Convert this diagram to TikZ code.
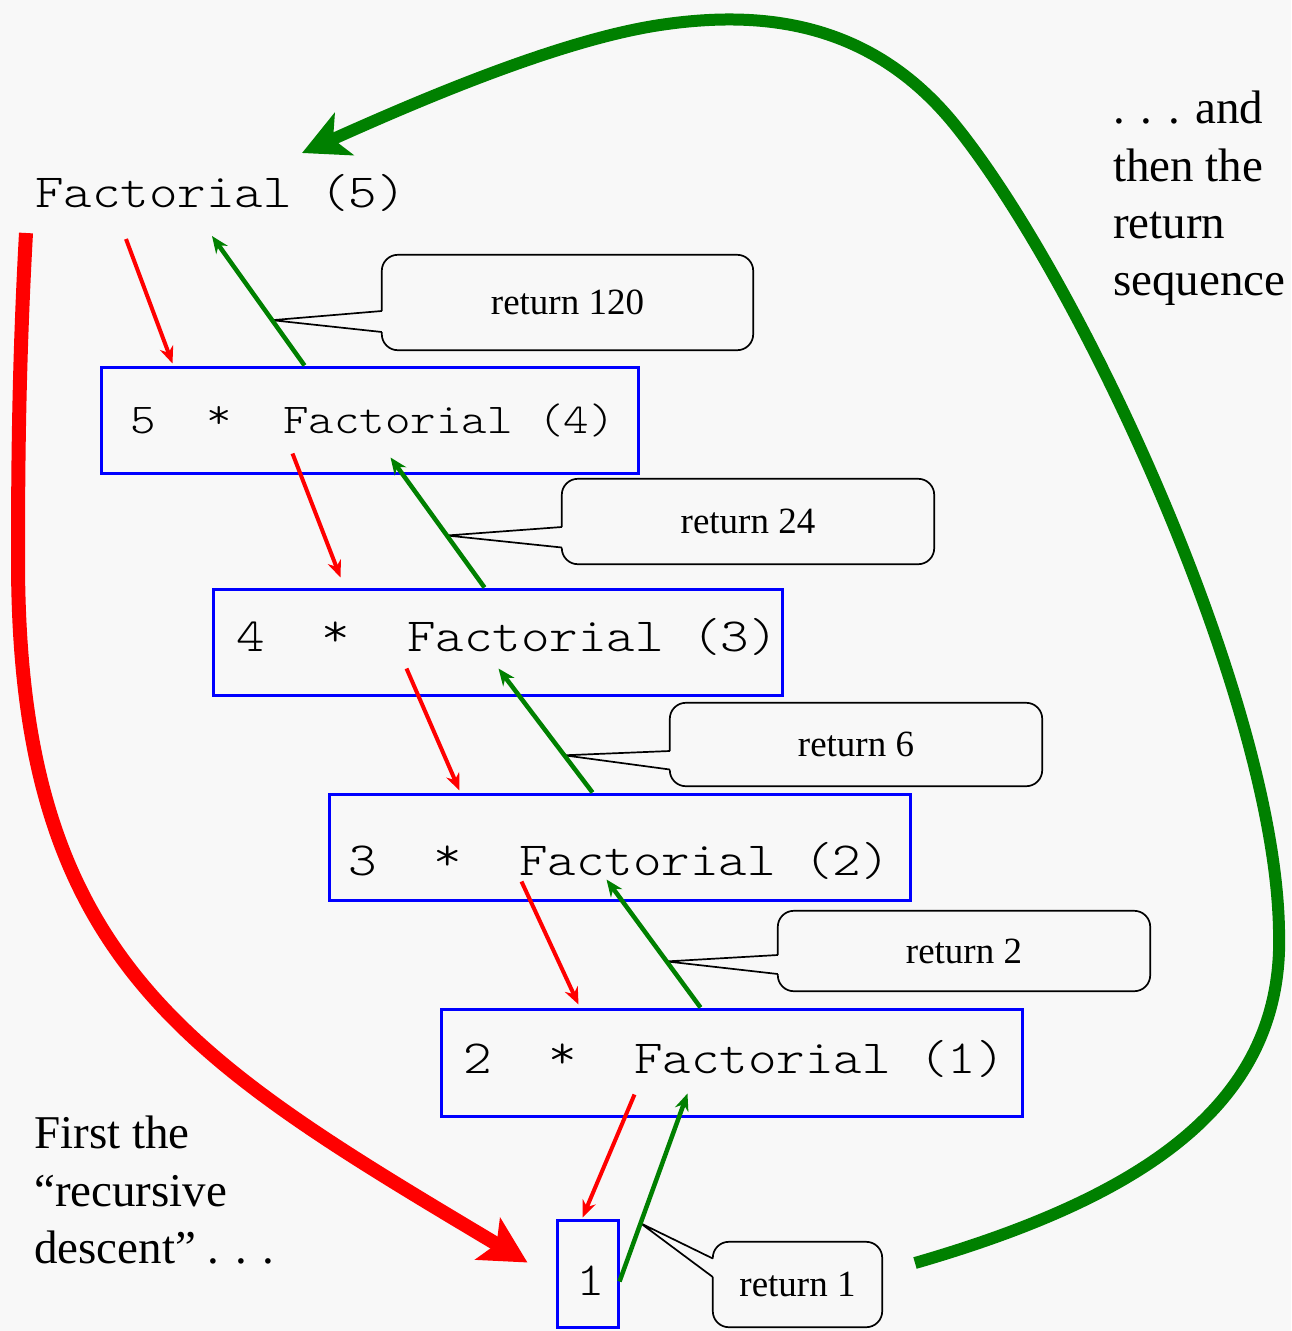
\documentclass[tikz,border=0pt]{standalone}
\usepackage{fontspec}
\setmainfont{Liberation Serif}
\newfontfamily\codefont{Latin Modern Mono Light}[FakeStretch=1.143]
\usetikzlibrary{arrows.meta,calc}
\definecolor{bgc}{RGB}{248,248,248}
\definecolor{cred}{RGB}{255,0,0}
\definecolor{cgreen}{RGB}{0,128,0}
\definecolor{cblue}{RGB}{0,0,255}
\newcommand\callpath[4]{%
  \draw[callline, rounded corners=16pt] ($(#1.west)+(0,#2)$) -- (#1.north west) -- (#1.north east) -- (#1.south east) -- (#1.south west) -- ($(#1.west)+(0,#3)$);
  \draw[callline, line join=miter] ($(#1.west)+(0,#2)$) -- (#4) -- ($(#1.west)+(0,#3)$);}
\newcommand\upstar{\raisebox{5pt}{*}}
\begin{document}
\begin{tikzpicture}[x=1pt,y=-1pt,
  callline/.style={draw=black, line width=1.7pt},
  callnode/.style={inner sep=0pt, font=\fontsize{37}{44}\selectfont},
  frame/.style={draw=cblue, line width=3pt, inner sep=0pt},
  codebig/.style={font=\codefont\fontsize{47.5}{55}\selectfont, anchor=base west, inner sep=0pt},
  codesmall/.style={font=\codefont\fontsize{42.5}{50}\selectfont, anchor=base west, inner sep=0pt},
  serifbig/.style={font=\fontsize{47}{57}\selectfont, anchor=base west, inner sep=0pt},
  redthin/.style={draw=cred, line width=4pt, -{Stealth[length=17pt,width=14pt]}},
  greenthin/.style={draw=cgreen, line width=4.5pt, -{Stealth[length=17pt,width=14pt]}}
]
\fill[bgc] (0,0) rectangle (1291,1331);
\useasboundingbox (0,0) rectangle (1291,1331);

% main expression
\node[codebig] (f5) at (35,207) {Factorial (5)};

% blue frames
\node[frame, minimum width=537pt, minimum height=106pt] (b1) at (369.5,420) {};
\node[frame, minimum width=569pt, minimum height=106pt] (b2) at (497.5,642) {};
\node[frame, minimum width=581pt, minimum height=106pt] (b3) at (619.5,847) {};
\node[frame, minimum width=581pt, minimum height=107pt] (b4) at (731.5,1062.5) {};
\node[frame, minimum width=61pt, minimum height=107pt] (b5) at (587.5,1273.5) {};

% texts in frames
\node[codesmall] (t1) at (130,433) {5\ \ \upstar\ \ Factorial (4)};
\node[codebig] (t2) at (236,651) {4\ \ \upstar\ \ Factorial (3)};
\node[codebig] (t3) at (348,875) {3\ \ \upstar\ \ Factorial (2)};
\node[codebig] (t4) at (463,1073) {2\ \ \upstar\ \ Factorial (1)};
\node[font=\codefont\fontsize{47.5}{55}\selectfont, anchor=base, inner sep=0pt] (t5) at (591,1295) {1};

% side texts
\node[serifbig] (a1) at (1113,123) {. . . and};
\node[serifbig] (a2) at (1113,181) {then the};
\node[serifbig] (a3) at (1113,238) {return};
\node[serifbig] (a4) at (1113,295) {sequence};
\node[serifbig] (d1) at (34,1148) {First the};
\node[serifbig] (d2) at (34,1206) {“recursive};
\node[serifbig] (d3) at (34,1263) {descent” . . .};

% thin arrow end points
\coordinate (r1a) at ($(f5.base west)+(91,32)$);
\coordinate (r1b) at ($(b1.north west)+(73,-2)$);
\coordinate (g1a) at ($(b1.north west)+(205,0)$);
\coordinate (g1b) at ($(f5.base west)+(177,29)$);
\coordinate (r2a) at ($(b1.south west)+(193,-21)$);
\coordinate (r2b) at ($(b2.north west)+(129,-10)$);
\coordinate (g2a) at ($(b2.north west)+(273,0)$);
\coordinate (g2b) at ($(b1.south west)+(291,-17)$);
\coordinate (r3a) at ($(b2.south west)+(195,-28)$);
\coordinate (r3b) at ($(b3.north west)+(132,-2)$);
\coordinate (g3a) at ($(b3.north west)+(265,0)$);
\coordinate (g3b) at ($(b2.south west)+(287,-28)$);
\coordinate (r4a) at ($(b3.south west)+(194,-20)$);
\coordinate (r4b) at ($(b4.north west)+(139,-3)$);
\coordinate (g4a) at ($(b4.north west)+(261,0)$);
\coordinate (g4b) at ($(b3.south west)+(279,-22)$);
\coordinate (r5a) at ($(b4.south west)+(195,-23)$);
\coordinate (r5b) at ($(b5.north west)+(27,-1)$);
\coordinate (g5a) at ($(b5.north east)+(0,63)$);
\coordinate (g5b) at ($(b4.south west)+(248,-24)$);

% callouts
\node[callnode, minimum width=371pt, minimum height=95pt] (c120) at (567.5,302.5) {return 120};
\node[callnode, minimum width=372pt, minimum height=85pt] (c24) at (748,521.5) {return 24};
\node[callnode, minimum width=372pt, minimum height=83pt] (c6) at (856,744.5) {return 6};
\node[callnode, minimum width=372pt, minimum height=80pt] (c2) at (964,951) {return 2};
\node[callnode, minimum width=169pt, minimum height=85pt] (c1) at (797.5,1284.5) {return 1};
\callpath{c120}{8.5}{29.5}{$(g1a)!0.35!(g1b)$}
\callpath{c24}{5.5}{26}{$(g2a)!0.40!(g2b)$}
\callpath{c6}{6.5}{25}{$(g3a)!0.30!(g3b)$}
\callpath{c2}{4}{23}{$(g4a)!0.36!(g4b)$}
\callpath{c1}{-26}{-7.5}{$(g5a)!0.31!(g5b)$}

% thin arrows
\draw[redthin] (r1a) -- (r1b);
\draw[greenthin] (g1a) -- (g1b);
\draw[redthin] (r2a) -- (r2b);
\draw[greenthin] (g2a) -- (g2b);
\draw[redthin] (r3a) -- (r3b);
\draw[greenthin] (g3a) -- (g3b);
\draw[redthin] (r4a) -- (r4b);
\draw[greenthin] (g4a) -- (g4b);
\draw[redthin] (r5a) -- (r5b);
\draw[greenthin] (g5a) -- (g5b);

% big curved arrows
\coordinate (rs) at (26,233);
\coordinate (re) at ($(b5.west)+(-28,-11)$);
\draw[cred, line width=14pt, -{Stealth[length=46pt,width=48pt,inset=10pt]}]
  (rs) .. controls (19,360) and (18,460) .. (18,560)
       .. controls (18,960) and (185,1058) .. (re);
\coordinate (gs) at (915,1263);
\coordinate (ge) at (302,153);
\draw[cgreen, line width=12pt, -{Stealth[length=46pt,width=46pt,inset=12pt]}]
  (gs) .. controls (1150,1195) and (1285,1100) .. (1279,930)
       .. controls (1275,700) and (1082,282) .. (955,125)
       .. controls (870,20) and (760,10) .. (660,25)
       .. controls (560,40) and (420,100) .. (ge);
\end{tikzpicture}
\end{document}
